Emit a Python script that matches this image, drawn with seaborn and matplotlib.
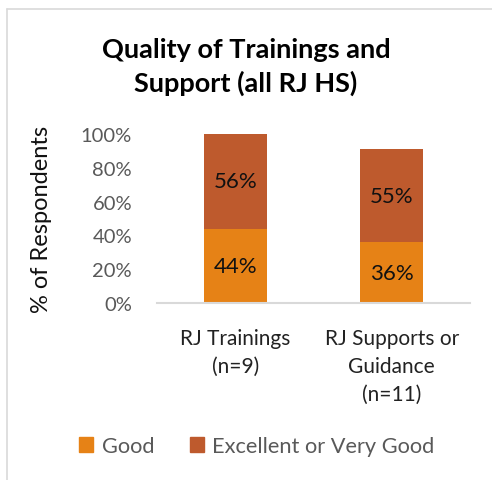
import matplotlib
matplotlib.use("Agg")
import matplotlib.pyplot as plt
import matplotlib.lines as mlines
import matplotlib.patches as mpatches
import pandas as pd
import seaborn as sns

categories = ["RJ Trainings\n(n=9)", "RJ Supports or\nGuidance\n(n=11)"]
good = [44, 36]
excellent = [56, 55]
series = ["Good", "Excellent or Very Good"]
colors = ["#E68216", "#BE5A2D"]
yticks = [0, 20, 40, 60, 80, 100]

sns.set_theme(style="white")
plt.rcParams["font.family"] = ["Lato", "DejaVu Sans"]

df = pd.DataFrame({"cat": categories, "good": good, "exc": excellent})
df["total"] = df["good"] + df["exc"]

fig = plt.figure(figsize=(4.92, 4.81), dpi=100)
ax = fig.add_axes([157/492, 1 - 304/481, 313/492, 169/481])

# stacked: total bar in dark colour, good bar drawn over it
sns.barplot(data=df, x="cat", y="total", color=colors[1], width=0.4,
            saturation=1, ax=ax, edgecolor="none")
sns.barplot(data=df, x="cat", y="good", color=colors[0], width=0.4,
            saturation=1, ax=ax, edgecolor="none")

for i, row in df.iterrows():
    ax.text(i, row["good"] / 2, f"{row['good']}%", ha="center", va="center",
            fontsize=16, color="#111111")
    ax.text(i, row["good"] + row["exc"] / 2, f"{row['exc']}%", ha="center",
            va="center", fontsize=16, color="#111111")

ax.set_xlim(-0.5, 1.5)
ax.set_ylim(0, 100)
ax.set_yticks(yticks)
ax.set_yticklabels([f"{t}%" for t in yticks], fontsize=14.5, color="#595959")
ax.set_xticks(range(len(categories)))
ax.set_xticklabels(categories, fontsize=15, color="#222222", linespacing=1.5)
ax.tick_params(axis="x", length=0, pad=18)
ax.tick_params(axis="y", length=0, pad=18)
ax.set_xlabel("")
ax.set_ylabel("% of Respondents", fontsize=17, color="#111111", labelpad=21)
for s in ["top", "right", "left"]:
    ax.spines[s].set_visible(False)
ax.spines["bottom"].set_color("#D9D9D9")
ax.spines["bottom"].set_linewidth(1.5)

fig.text(0.5, 1 - 67/481, "Quality of Trainings and\nSupport (all RJ HS)",
         ha="center", va="center", fontsize=19.5, fontweight="bold",
         color="#000000", linespacing=1.45)

handles = [mpatches.Patch(color=c, label=s) for s, c in zip(series, colors)]
fig.legend(handles=handles, loc="center", bbox_to_anchor=(257/492, 1 - 447/481),
           ncol=2, frameon=False, fontsize=15.7, handlelength=0.65,
           handleheight=0.65, handletextpad=0.4, columnspacing=1.6,
           labelcolor="#595959")

# chart frame edges visible in the crop
fig.add_artist(mlines.Line2D([7/492, 1], [1 - 10/481, 1 - 10/481],
                             transform=fig.transFigure, color="#D9D9D9", lw=1.2))
fig.add_artist(mlines.Line2D([7/492, 7/492], [0, 1 - 10/481],
                             transform=fig.transFigure, color="#D9D9D9", lw=1.2))

fig.savefig("out.png", dpi=100)
